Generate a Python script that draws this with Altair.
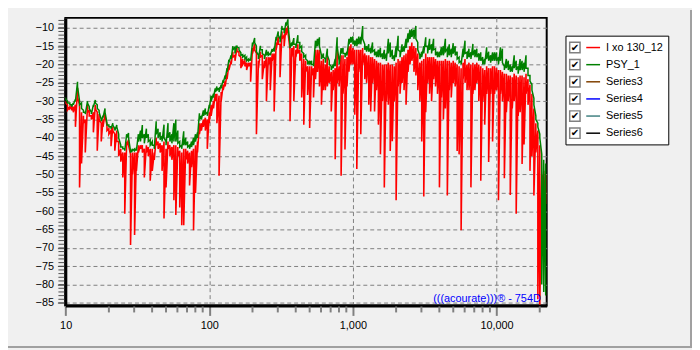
import altair as alt
import pandas as pd

# ---------------- data ----------------
FREQ_10 = [10.0, 10.3, 10.7, 11.0, 11.3, 11.7, 12.1, 12.5, 12.9, 13.3, 13.7, 14.2, 14.6, 15.1, 15.6,
           16.1, 16.6, 17.1, 17.7, 18.2, 18.8, 19.4, 20.0, 20.7, 21.3, 22.0, 22.7, 23.4, 24.2, 25.0,
           25.8, 26.6, 27.4, 28.3, 29.2, 30.2, 31.1, 32.1, 33.2, 34.2, 35.3, 36.5, 37.6, 38.8, 40.1,
           41.4, 42.7, 44.0, 45.5, 46.9, 48.4, 50.0, 51.6, 53.2, 54.9, 56.7, 58.5, 60.4, 62.3, 64.3,
           66.4, 68.5, 70.7, 72.9, 75.3, 77.7, 80.2, 82.8, 85.4, 88.1, 91.0, 93.9, 96.9]
FREQ_100 = [100, 103, 107, 110, 113, 117, 121, 125, 129, 133, 137, 142, 146, 151, 156, 161, 166, 171,
            177, 182, 188, 194, 200, 207, 213, 220, 227, 234, 242, 250, 258, 266, 274, 283, 292, 302,
            311, 321, 332, 342, 353, 365, 376, 388, 401, 414, 427, 440, 455, 469, 484, 500, 516, 532,
            549, 567, 585, 604, 623, 643, 664, 685, 707, 729, 753, 777, 802, 828, 854, 881, 910, 939, 969]
FREQ_1K = [1000, 1030, 1065, 1100, 1135, 1170, 1210, 1245, 1290, 1330, 1370, 1415, 1460, 1505, 1555,
           1605, 1655, 1710, 1765, 1820, 1880, 1940, 2000, 2065, 2130, 2200, 2270, 2345, 2420, 2495,
           2575, 2660, 2745, 2830, 2925, 3015, 3115, 3215, 3315, 3420, 3530, 3645, 3760, 3880, 4005,
           4135, 4265, 4405, 4545, 4690, 4840, 4995, 5155, 5320, 5490, 5670, 5850, 6035, 6230, 6430,
           6635, 6850, 7070, 7295, 7530, 7770, 8020, 8275, 8540, 8815, 9095, 9390, 9690]
FREQ_10K = [10000, 10320, 10650, 10990, 11340, 11710, 12080, 12470, 12870, 13280, 13710, 14150, 14600,
            15070, 15550, 16050, 16570, 17100, 17650, 18210, 18790, 19400, 20020, 20660, 21320, 22000]

# PSY_1 (green): upper and lower value of each narrow frequency bin
G_HI_0 = [-29, -30, -30.5, -31, -30.5, -29.5, -24.7, -30, -30.5, -32.5, -33, -30, -31.5, -33, -31,
          -29.7, -31, -32.5, -35, -34, -32, -36, -36.5, -37, -36, -37.5, -36.5, -39, -42, -42.5,
          -43, -39, -38.7, -43.5, -43, -43, -43, -39, -38, -36.5, -39, -37.5, -39, -40.5, -41,
          -42, -35.5, -37.5, -38.5, -39.5, -36.4, -41, -36, -38.5, -39, -36, -35, -38, -41, -42,
          -38.2, -40, -41, -42, -41, -40, -39, -38.5, -33.3, -34, -32.5, -32, -33]
G_LO_0 = [-29.5, -30.5, -31, -31.5, -31, -30, -26, -31, -32, -33, -33.5, -30.5, -32, -33.5, -31.5,
          -30.5, -32, -33, -35.5, -34.5, -33, -36.5, -37, -37.5, -36.5, -38, -37, -40, -42.5, -43,
          -43.5, -40, -40, -44, -43.5, -43.5, -43.5, -41, -41, -40, -41.5, -40, -41, -42, -42,
          -43, -39, -40, -40.5, -41, -40, -42, -40, -41, -41.5, -41, -41, -41.5, -42.5, -43,
          -42, -42, -42.5, -43, -42.5, -42, -41, -40, -35, -35, -34, -33.5, -34]
G_HI_1 = [-31, -28.5, -28, -26.5, -26, -26.5, -25.5, -24.2, -23, -21, -18.7, -17.5, -15, -15.3, -14.8,
          -15.5, -16.8, -17.3, -17.5, -18, -18.5, -18.5, -14, -12.8, -15, -17.5, -14.9, -16, -17.5, -16,
          -16.5, -17, -15.8, -15.5, -12.5, -11, -13, -9.5, -10.3, -8.5, -7.7, -14.5, -14, -12.8, -14.5,
          -12, -14, -15, -17, -17.5, -19, -19, -19, -20, -13.5, -13, -12.6, -17.5, -17, -18.5,
          -15.7, -19, -20.5, -20, -18.5, -12.6, -19, -15.5, -15.5, -17, -16.5, -13, -12.5]
G_LO_1 = [-32, -30, -29, -27.5, -27, -27.5, -26.5, -25, -24, -22, -19.5, -18.5, -16, -17, -15.2,
          -16, -17.5, -18, -18.5, -19, -19, -19, -15, -14, -16.5, -18.5, -16, -17, -18.5, -17.5,
          -17.5, -17.5, -16.5, -16.5, -13.5, -12, -14, -10.5, -11.5, -9.5, -9, -15.5, -15, -14.5, -15.5,
          -14, -15.5, -16.5, -18, -18.5, -20, -20, -20, -20.5, -15.5, -15, -15, -18.5, -18, -19.5,
          -17.5, -20, -21.5, -21, -20.5, -15, -20, -17, -17, -18, -17.5, -14.5, -14]
G_HI_2 = [-12.4, -13.5, -13, -12.4, -12.5, -9.5, -14.5, -15, -14.5, -15.5, -14, -16, -16.5, -16, -15.5,
          -17, -16, -17, -13, -14, -16, -17.5, -15, -12.2, -16.5, -14.5, -15, -13, -11.5, -10.5,
          -10.4, -10.5, -9.5, -14, -17.5, -16.5, -15, -12.6, -15, -13, -14.5, -13, -15.7, -16.5, -16.5,
          -15.3, -15, -13, -15.7, -14.5, -15.7, -14.2, -15, -16.5, -18, -19, -15.7, -13.5, -16.7, -15.7,
          -16.7, -14.4, -16, -15.7, -17, -16.7, -18, -18.5, -15.3, -16.5, -17.5, -16.7, -16.7]
G_LO_2 = [-14.5, -15, -15, -14.5, -14.5, -13, -16, -16.5, -16.5, -17, -16.5, -17.5, -18, -18, -18,
          -18.5, -18.5, -19, -17, -18, -18.5, -19, -18, -16, -18, -16.5, -16.5, -15.5, -14, -13,
          -12.5, -13, -13, -16, -18.5, -18, -17, -15, -17, -16, -17, -16, -17.5, -18, -18,
          -17.5, -17.5, -16.5, -18, -17.5, -18, -17, -17.5, -18.5, -19.5, -20, -18, -17, -18.5, -18,
          -18.5, -17.5, -18, -18, -19, -19, -20, -20, -18.5, -19, -19.5, -19, -19]
G_HI_3 = [-16.7, -18, -15.3, -15.7, -20.5, -18.5, -19, -20, -20.5, -17.5, -19, -20.5, -18.5, -19,
          -19.5, -17.5, -21, -23, -25.5, -29.2, -34, -36, -39, -44.5, -46, -47]
G_LO_3 = [-19, -20, -19, -19.5, -21.5, -21, -21.5, -22, -22, -21, -21.5, -22.5, -21.5, -21.5,
          -22, -21, -23, -24.5, -27, -31, -35, -37, -40, -80, -82, -83]

# I xo 130_12 (red)
R_HI_0 = [-30, -31, -31.5, -31.5, -31.5, -31, -26.4, -31, -33, -34, -35, -31, -32.5, -34, -33,
          -31, -33, -33.5, -36, -35, -33.5, -36.5, -37.5, -38, -37, -39, -38, -41, -43, -44,
          -44, -41, -40.5, -44.5, -44, -44, -44, -42, -42, -42, -43, -42, -42.5, -43, -43,
          -44, -40, -41, -41.5, -42, -41, -43, -41, -42, -42.5, -42, -42, -42.5, -43.5, -44,
          -43, -43, -43.5, -44, -43.5, -43, -42, -41, -36, -36, -35, -34.5, -35]
R_LO_0 = [-30.5, -32.4, -32, -32.5, -33, -37, -29, -53.5, -47, -36, -44, -33, -34, -35, -38.5,
          -32, -43.5, -35, -41, -37, -34, -38, -39, -42.3, -38, -43.5, -41, -45, -46.5, -50.8,
          -60.7, -42, -42, -69.2, -50, -66.5, -49, -44, -43, -44, -50.8, -44, -45, -51.7, -49,
          -46, -42, -43, -44, -49, -62, -53.5, -43, -45, -46, -57, -61, -45, -59, -63.8,
          -63.8, -46, -47, -53, -48, -65.2, -55, -44, -39, -38, -37, -38, -43]
R_HI_1 = [-33, -31, -30, -28, -28, -28.5, -27.5, -25.5, -24.5, -22.5, -20, -19, -16.5, -17.5, -15.5,
          -16.5, -18, -18.5, -19, -19.5, -19.5, -19.5, -15.5, -14.5, -17, -19, -16.5, -17.5, -19, -18,
          -18, -18, -17, -17, -14, -12.5, -14.5, -11, -12, -10, -9.5, -16, -15.5, -15, -16,
          -14.5, -16, -17, -18.5, -19, -20.5, -20.5, -20.5, -21, -16, -16, -16, -19, -18.5, -20,
          -18, -20.5, -22, -21.5, -21, -16, -20.5, -17.5, -17.5, -18.5, -18, -15, -14.5]
R_LO_1 = [-36, -34, -32, -30, -36, -50.3, -30, -27, -26, -24, -21.5, -20, -18, -19, -16.5,
          -17.5, -21, -20, -20.5, -21.5, -20.5, -24.7, -17, -16, -39, -21, -18, -24, -21, -30,
          -20, -27, -19, -32.8, -16, -14.5, -23.5, -13, -15, -12, -11, -35.5, -18, -30, -18,
          -17, -19, -29, -36.4, -22, -28.3, -37.3, -23, -29, -24, -22, -26, -31, -27, -27,
          -26, -25, -32.8, -27, -45.8, -25, -26, -50.3, -28, -43.2, -26, -22, -20]
R_HI_2 = [-15.5, -16, -16, -16, -16, -15.5, -17, -17.5, -17.5, -18, -18, -18.5, -19, -19.5, -19.5,
          -20, -20, -20, -19.5, -20, -20, -20.5, -19.5, -18.5, -19, -18, -17.5, -17, -16, -15,
          -14, -15, -15.5, -17, -19.5, -19, -18.5, -17, -18, -18, -18, -18, -18.5, -19, -19,
          -19, -19, -18.5, -19, -19, -19.5, -19, -19.5, -20, -20.5, -21, -19.5, -18.5, -20, -19.5,
          -20, -19.5, -20, -19.5, -20, -20.5, -21, -21.5, -20.5, -21, -21, -20.5, -20.5]
R_LO_2 = [-20, -33.7, -48.5, -22, -39, -20, -24, -25, -31, -32.8, -25, -32.8, -27, -36.4, -44.5,
          -30, -53.5, -30, -31, -43.6, -40.9, -30, -57, -26, -28, -25, -27, -31, -22, -20,
          -19, -22, -23, -27, -30, -41, -56, -33, -25, -28, -30, -24, -26, -28, -53.5,
          -29, -35, -32, -55.7, -27, -29, -25, -26, -43.6, -44.5, -65.2, -24, -25, -27, -27,
          -53.5, -28, -27, -25, -30, -51.7, -30, -36.4, -28, -46.6, -28, -41, -28]
R_HI_3 = [-21, -21.5, -21.5, -22, -22.5, -22.5, -23, -23, -23.5, -22.5, -23, -23.5, -23, -23,
          -23.5, -22.5, -24, -25.5, -28, -32, -36, -38, -42, -50, -49, -50]
R_LO_3 = [-27, -57, -28, -30, -51, -33, -30, -55.6, -32, -30, -60.7, -34, -33, -47.1, -41.8,
          -28, -31, -49, -45, -55.7, -44, -84, -85.5, -57, -60, -58]

FREQ = FREQ_10 + FREQ_100 + FREQ_1K + FREQ_10K
GREEN_HI = G_HI_0 + G_HI_1 + G_HI_2 + G_HI_3
GREEN_LO = G_LO_0 + G_LO_1 + G_LO_2 + G_LO_3
RED_HI = R_HI_0 + R_HI_1 + R_HI_2 + R_HI_3
RED_LO = R_LO_0 + R_LO_1 + R_LO_2 + R_LO_3
for arr in (GREEN_HI, GREEN_LO, RED_HI, RED_LO):
    assert len(arr) == len(FREQ), (len(arr), len(FREQ))

X_MAJOR = [10, 100, 1000, 10000]
X_MINOR = [20, 30, 40, 50, 60, 70, 80, 90, 200, 300, 400, 500, 600, 700, 800, 900,
           2000, 3000, 4000, 5000, 6000, 7000, 8000, 9000, 20000]
Y_MAJOR = [-10, -15, -20, -25, -30, -35, -40, -45, -50, -55, -60, -65, -70, -75, -80, -85]
Y_MINOR = list(range(-85, -7))

LEGEND_LABELS = ["I xo 130_12", "PSY_1", "Series3", "Series4", "Series5", "Series6"]
LEGEND_COLORS = ["#ff0000", "#008000", "#804000", "#0000ff", "#408080", "#000000"]
WATERMARK = "(((acourate)))® - 754D"

FONT = "Liberation Sans"


def zigzag(freqs, hi, lo):
    rows = []
    for i, (f, h, l) in enumerate(zip(freqs, hi, lo)):
        rows.append({"freq": f, "db": h, "order": 2 * i})
        rows.append({"freq": f, "db": l, "order": 2 * i + 1})
    return pd.DataFrame(rows)


red_df = zigzag(FREQ, RED_HI, RED_LO)
green_df = zigzag(FREQ, GREEN_HI, GREEN_LO)

xscale = alt.Scale(type="log", domain=[9.95, 22360], nice=False)
yscale = alt.Scale(domain=[-85.7, -7.3], nice=False, zero=False)

x_axis = alt.Axis(values=X_MAJOR, format=",.0f", title=None, labelFont=FONT, labelFontSize=11,
                  labelColor="black", tickSize=10, tickColor="#808080", tickWidth=2,
                  domainColor="black", domainWidth=3, grid=True, gridColor="#808080",
                  gridDash=[4, 3], gridWidth=1, labelPadding=4, labelFlush=False,
                  labelOverlap=False)
y_axis = alt.Axis(values=Y_MAJOR, title=None, labelFont=FONT, labelFontSize=11,
                  labelColor="black", tickSize=8, tickColor="#505050", tickWidth=1,
                  domainColor="black", domainWidth=3, grid=True, gridColor="#808080",
                  gridDash=[4, 3], gridWidth=1, labelPadding=4, labelFlush=False,
                  labelOverlap=False)

red_line = alt.Chart(red_df).mark_line(color="#ff0000", strokeWidth=1.6, clip=True).encode(
    x=alt.X("freq:Q", scale=xscale, axis=x_axis),
    y=alt.Y("db:Q", scale=yscale, axis=y_axis),
    order=alt.Order("order:Q"),
)
green_line = alt.Chart(green_df).mark_line(color="#008000", strokeWidth=1.5, clip=True).encode(
    x=alt.X("freq:Q", scale=xscale, axis=x_axis),
    y=alt.Y("db:Q", scale=yscale, axis=y_axis),
    order=alt.Order("order:Q"),
)

xminor = alt.Chart(pd.DataFrame({"freq": X_MINOR})).mark_rule(color="#808080", strokeWidth=2).encode(
    x=alt.X("freq:Q", scale=xscale, axis=x_axis), y=alt.value(292), y2=alt.value(298))
yminor = alt.Chart(pd.DataFrame({"db": Y_MINOR})).mark_rule(color="#505050", strokeWidth=1).encode(
    y=alt.Y("db:Q", scale=yscale, axis=y_axis), x=alt.value(-7), x2=alt.value(-1))

one = pd.DataFrame({"a": [0]})
watermark = alt.Chart(one).mark_text(text=WATERMARK, align="right", baseline="alphabetic",
                                     font=FONT, fontSize=11, color="#0000ff").encode(
    x=alt.value(481), y=alt.value(287))

# legend panel
leg_df = pd.DataFrame({
    "label": LEGEND_LABELS,
    "color": LEGEND_COLORS,
    "py": [30 + 17.33 * i for i in range(len(LEGEND_LABELS))],
})
leg_box = alt.Chart(one).mark_rect(fill="white", stroke="black", strokeWidth=1).encode(
    x=alt.value(506.5), x2=alt.value(610.5), y=alt.value(18.5), y2=alt.value(128.5))
leg_y = alt.Y("py:Q", scale=None, axis=None)
leg_check_box = alt.Chart(leg_df).mark_square(size=110, fill="white", stroke="#808080",
                                              strokeWidth=1.5, opacity=1).encode(
    x=alt.value(515.5), y=leg_y)
leg_check = alt.Chart(leg_df).mark_text(text="✔", font="DejaVu Sans", fontSize=10,
                                        color="black", align="center", baseline="middle").encode(
    x=alt.value(515.5), y=leg_y)
leg_swatch = alt.Chart(leg_df).mark_rule(strokeWidth=1.5).encode(
    x=alt.value(527), x2=alt.value(541), y=leg_y, color=alt.Color("color:N", scale=None))
leg_text = alt.Chart(leg_df).mark_text(align="left", baseline="middle", font=FONT, fontSize=11,
                                       color="black").encode(
    x=alt.value(547), y=leg_y, text="label:N")

# window bevel on right / bottom edge
edge_v = alt.Chart(one).mark_rule(color="#a0a0a0", strokeWidth=2).encode(
    x=alt.value(633), y=alt.value(-8), y2=alt.value(334))
edge_h = alt.Chart(one).mark_rule(color="#a0a0a0", strokeWidth=2).encode(
    y=alt.value(333), x=alt.value(-58), x2=alt.value(634))

chart = alt.layer(
    red_line, green_line, xminor, yminor, watermark,
    leg_box, leg_check_box, leg_check, leg_swatch, leg_text, edge_v, edge_h,
).properties(
    width=487, height=291,
    padding={"left": 58, "top": 8, "right": 147, "bottom": 43},
    autosize=alt.AutoSizeParams(type="none"),
    background="#f0f0f0",
).configure_view(stroke="black", strokeWidth=2, fill="#f0f0f0").configure_axis(labelOverlap=False)

chart.save("out.html", embed_options={"renderer": "svg", "actions": False})
